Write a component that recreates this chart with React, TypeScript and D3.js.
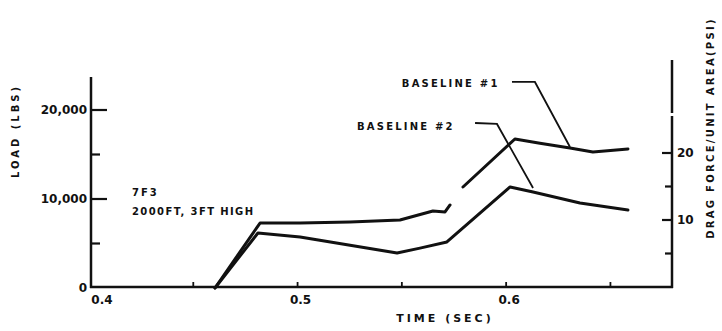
import React from 'react';
import * as d3 from 'd3';

// time (sec) and load (lbs); null marks the break in baseline #1
const baseline1Time = [0.4604, 0.482, 0.5012, 0.5251, 0.5491, 0.5649, 0.5707, 0.5731, null, 0.5793, 0.6042, 0.6162, 0.6306, 0.6416, 0.6584];
const baseline1Load = [0, 7300, 7300, 7420, 7640, 8650, 8540, 9330, null, 11350, 16740, 16260, 15730, 15280, 15620];
const baseline2Time = [0.4604, 0.481, 0.5012, 0.5477, 0.5587, 0.5716, 0.6019, 0.6129, 0.6354, 0.6584];
const baseline2Load = [0, 6180, 5730, 3930, 4480, 5170, 11350, 10790, 9550, 8760];

const timeTicks = [0.45, 0.5, 0.55, 0.6, 0.65];
const timeLabels = [{ v: 0.4, t: '0.4' }, { v: 0.5, t: '0.5' }, { v: 0.6, t: '0.6' }];
const loadTicks = [5000, 10000, 15000, 20000];
const loadLabels = [{ v: 0, t: '0' }, { v: 10000, t: '10,000' }, { v: 20000, t: '20,000' }];
const psiTicks = [5, 10, 15, 20];
const psiLabels = [{ v: 10, t: '10' }, { v: 20, t: '20' }];

// leader lines: label, then path points in (time, load)
const leaders = [
  { label: 'BASELINE #1', at: [0.55, 22600], path: [[0.6028, 23150], [0.6138, 23150], [0.6306, 15840]] },
  { label: 'BASELINE #2', at: [0.5285, 17750], path: [[0.5851, 18540], [0.5956, 18430], [0.6129, 11240]] },
];

const font = '"DejaVu Sans", sans-serif';
const ink = '#111';

export default function App() {
  const x = d3.scaleLinear().domain([0.4, 0.68]).range([89, 673]);
  const y = d3.scaleLinear().domain([0, 20000]).range([288, 110]);
  const yR = d3.scaleLinear().domain([0, 20]).range([287, 153]);

  const line = d3.line<[number | null, number | null]>()
    .defined(d => d[0] !== null && d[1] !== null)
    .x(d => x(d[0] as number))
    .y(d => y(d[1] as number));

  const s1 = baseline1Time.map((t, i) => [t, baseline1Load[i]] as [number | null, number | null]);
  const s2 = baseline2Time.map((t, i) => [t, baseline2Load[i]] as [number | null, number | null]);

  const leftX = 91;
  const rightX = x(0.68) - 1;
  const baseY = y(0) - 1;

  return (
    <div style={{ position: 'absolute', left: 0, top: 0 }}>
      <svg width={722} height={331} style={{ display: 'block', background: '#fff' }}>
        {/* axes */}
        <line x1={leftX} x2={leftX} y1={77} y2={baseY + 1} stroke={ink} strokeWidth={2.5} />
        <line x1={leftX - 1} x2={rightX + 1} y1={baseY} y2={baseY} stroke={ink} strokeWidth={2.5} />
        <line x1={rightX} x2={rightX} y1={60} y2={113} stroke={ink} strokeWidth={2.5} />
        <line x1={rightX} x2={rightX} y1={116} y2={baseY + 1} stroke={ink} strokeWidth={2.5} />

        {loadTicks.map(v => (
          <line key={v} x1={leftX} x2={leftX + (v % 10000 === 0 ? 16 : 9)} y1={y(v)} y2={y(v)} stroke={ink} strokeWidth={2.2} />
        ))}
        {loadLabels.map(d => (
          <text key={d.t} x={leftX - 4} y={y(d.v)} dy="0.35em" textAnchor="end" fontFamily={font}
            fontWeight="bold" fontSize={12} fill={ink}>{d.t}</text>
        ))}
        {timeTicks.map(v => (
          <line key={v} x1={x(v)} x2={x(v)} y1={baseY} y2={baseY - 5} stroke={ink} strokeWidth={1.8} />
        ))}
        {timeLabels.map(d => (
          <text key={d.t} x={x(d.v) + (d.v === 0.4 ? 13 : 3)} y={baseY + 17} textAnchor="middle" fontFamily={font}
            fontWeight="bold" fontSize={12} fill={ink}>{d.t}</text>
        ))}
        {psiTicks.map(v => (
          <line key={v} x1={rightX - (v % 10 === 0 ? 10 : 7)} x2={rightX} y1={yR(v)} y2={yR(v)} stroke={ink} strokeWidth={2.2} />
        ))}
        {psiLabels.map(d => (
          <text key={d.t} x={rightX + 5} y={yR(d.v)} dy="0.35em" fontFamily={font}
            fontWeight="bold" fontSize={12} fill={ink}>{d.t}</text>
        ))}

        {/* axis titles */}
        <text x={445} y={322} textAnchor="middle" fontFamily={font} fontWeight="bold" fontSize={11}
          letterSpacing={3} fill={ink}>TIME (SEC)</text>
        <text transform="translate(19,131) rotate(-90)" textAnchor="middle" fontFamily={font} fontWeight="bold"
          fontSize={10} letterSpacing={3} fill={ink}>LOAD (LBS)</text>
        <text transform="translate(714,128) rotate(-90)" textAnchor="middle" fontFamily={font} fontWeight="bold"
          fontSize={10} letterSpacing={2.3} fill={ink}>DRAG FORCE/UNIT AREA(PSI)</text>

        {/* test note */}
        <text x={132} y={196} fontFamily={font} fontWeight="bold" fontSize={10} letterSpacing={2} fill={ink}>7F3</text>
        <text x={132} y={215} fontFamily={font} fontWeight="bold" fontSize={10} letterSpacing={1.4} fill={ink}>2000FT, 3FT HIGH</text>

        {/* curves */}
        <path d={line(s1) ?? ''} fill="none" stroke={ink} strokeWidth={3} strokeLinejoin="round" strokeLinecap="round" />
        <path d={line(s2) ?? ''} fill="none" stroke={ink} strokeWidth={3} strokeLinejoin="round" strokeLinecap="round" />

        {/* leaders */}
        {leaders.map(l => (
          <g key={l.label}>
            <text x={x(l.at[0])} y={y(l.at[1])} fontFamily={font} fontWeight="bold" fontSize={10}
              letterSpacing={2.2} fill={ink}>{l.label}</text>
            <path d={d3.line()(l.path.map(p => [x(p[0]), y(p[1])] as [number, number])) ?? ''}
              fill="none" stroke={ink} strokeWidth={1.8} />
          </g>
        ))}
      </svg>
    </div>
  );
}
